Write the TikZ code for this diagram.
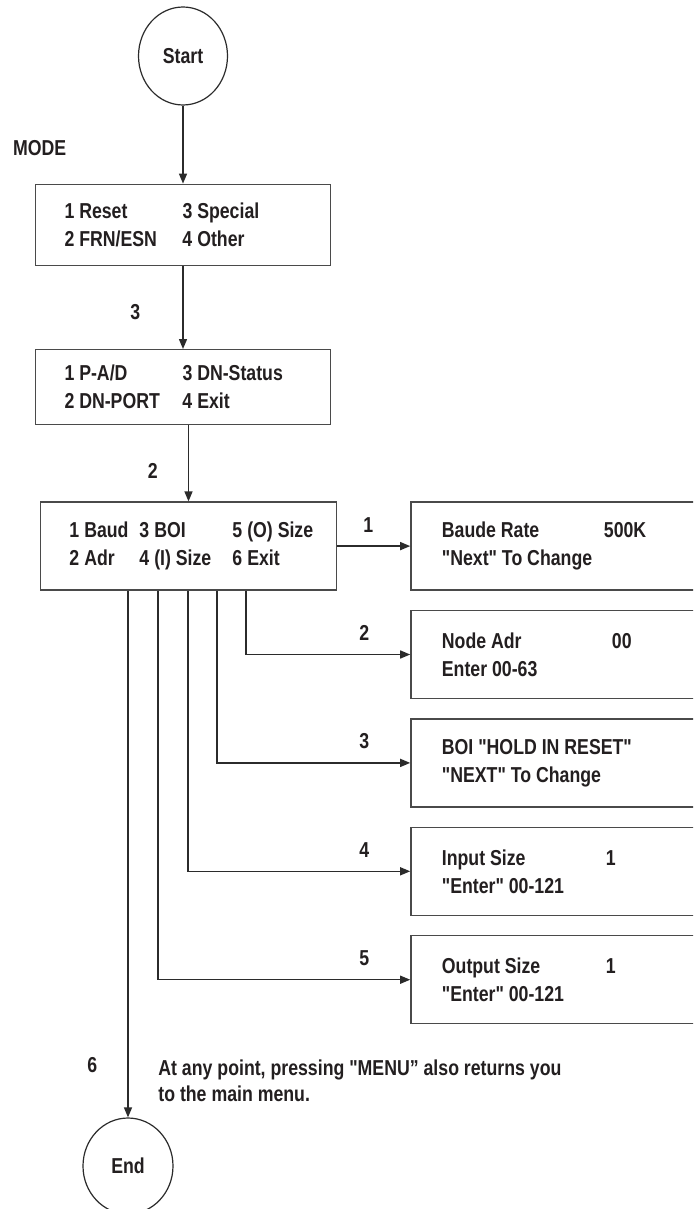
\documentclass[tikz,border=0pt]{standalone}
\usepackage{fontspec}
\newfontfamily\flowfont{Liberation Sans}[FakeStretch=0.82]
\usepackage{tikz}
\usetikzlibrary{shapes.geometric, arrows.meta, positioning, calc}
\definecolor{fcInk}{HTML}{231F20}
\definecolor{fcLine}{HTML}{2B2B2B}
\definecolor{fcBorder}{HTML}{4A4A4A}

\begin{document}
\begin{tikzpicture}[
  x=0.5pt, y=-0.5pt,
  %% --- Node styles ---
  terminal/.style={
    ellipse, minimum width=44.5pt, minimum height=49pt, inner sep=0pt,
    draw=fcLine, line width=0.6pt, text=fcInk,
    font=\flowfont\bfseries\fontsize{10.8}{14}\selectfont
  },
  menubox/.style={
    rectangle, align=left, text width=121.5pt,
    inner xsep=13pt, inner ysep=0pt,
    draw=fcBorder, line width=0.7pt, text=fcInk,
    font=\flowfont\bfseries\fontsize{10.8}{14}\selectfont,
    execute at begin node={\spaceskip=0pt\xspaceskip=0pt}
  },
  screenbox/.style={
    rectangle, align=left, text width=115pt,
    minimum height=44pt, inner xsep=15.5pt, inner ysep=0pt,
    draw=fcBorder, line width=0.7pt, text=fcInk,
    font=\flowfont\bfseries\fontsize{10.8}{14}\selectfont,
    execute at begin node={\spaceskip=0pt\xspaceskip=0pt}
  },
  keylabel/.style={
    inner sep=0pt, text=fcInk,
    font=\flowfont\bfseries\fontsize{10.8}{14}\selectfont
  },
  note/.style={
    align=left, inner sep=0pt, text=fcInk,
    font=\flowfont\bfseries\fontsize{10.8}{13}\selectfont,
    execute at begin node={\spaceskip=0pt\xspaceskip=0pt}
  },
  %% --- Arrow style ---
  arrow/.style={-{Triangle[length=5pt, width=4pt]}, line width=0.7pt, draw=fcLine}
]

\path[use as bounding box, fill=white] (0,0) rectangle (693,1209);
\clip (0,0) rectangle (693,1209);

%% =========================================================
%% NODES — main column
%% =========================================================
\node (start)    [terminal] at (183,56) {Start};
\node (modemenu) [menubox, minimum height=40.5pt, below=39pt of start]
      {\hspace*{1.5pt}\makebox[59pt][l]{1 Reset}3 Special\\
       \hspace*{1.5pt}\makebox[59pt][l]{2 FRN/ESN}4 Other};
\node (specmenu) [menubox, minimum height=37.5pt, below=41.5pt of modemenu]
      {\hspace*{1.5pt}\makebox[59pt][l]{1 P-A/D}3 DN-Status\\
       \hspace*{1.5pt}\makebox[59pt][l]{2 DN-PORT}4 Exit};
\node (dnmenu)   [menubox, text width=122pt, minimum height=44pt,
                  below=38pt of specmenu, xshift=2.75pt]
      {\hspace*{1.5pt}\makebox[35pt][l]{1 Baud}\makebox[46.5pt][l]{3 BOI}\mbox{5 (O) Size}\\
       \hspace*{1.5pt}\makebox[35pt][l]{2 Adr}\makebox[46.5pt][l]{4 (I) Size}\mbox{6 Exit}};
\node (finish)   [terminal, minimum width=45pt, minimum height=48pt] at (128,1166) {End};

%% =========================================================
%% SCREENS — right column
%% =========================================================
\node (baud)    [screenbox, right=36.5pt of dnmenu]
      {\makebox[81pt][l]{Baude Rate}500K\\"Next" To Change};
\node (nodeadr) [screenbox, below=9.5pt of baud]
      {\makebox[85pt][l]{Node Adr}00\\Enter 00-63};
\node (boi)     [screenbox, below=9.5pt of nodeadr]
      {BOI "HOLD IN RESET"\\"NEXT" To Change};
\node (insize)  [screenbox, below=9.5pt of boi]
      {\makebox[82pt][l]{Input Size}1\\"Enter" 00-121};
\node (outsize) [screenbox, below=9.5pt of insize]
      {\makebox[82pt][l]{Output Size}1\\"Enter" 00-121};

\node (menunote) [note, anchor=north west] at (158,1059)
      {At any point, pressing "MENU” also returns you\\to the main menu.};

%% =========================================================
%% MAIN COLUMN ARROWS
%% =========================================================
\draw[arrow] (start)    -- node[keylabel, pos=0.55, left=58pt]{MODE} (modemenu);
\draw[arrow] (modemenu) -- node[keylabel, pos=0.55, left=21pt]{3} (specmenu);
\draw[arrow] (specmenu.south -| dnmenu.north)
    -- node[keylabel, pos=0.6, left=15pt]{2} (dnmenu.north);

%% =========================================================
%% BRANCH ARROWS
%% =========================================================
%% 1 -> baud rate screen
\draw[arrow] (dnmenu) -- node[keylabel, pos=1, above=6.5pt, xshift=-21pt]{1} (baud);

%% 2 .. 5 drop from the menu bottom, then run right
\draw[arrow] ([xshift=103pt]dnmenu.south west)
    |- node[keylabel, pos=1, above=6.5pt, xshift=-23pt]{2} (nodeadr.west);
\draw[arrow] ([xshift=88.5pt]dnmenu.south west)
    |- node[keylabel, pos=1, above=6.5pt, xshift=-23pt]{3} (boi.west);
\draw[arrow] ([xshift=74pt]dnmenu.south west)
    |- node[keylabel, pos=1, above=6.5pt, xshift=-23pt]{4} (insize.west);
\draw[arrow] ([xshift=59pt]dnmenu.south west)
    |- node[keylabel, pos=1, above=6.5pt, xshift=-23pt]{5} (outsize.west);

%% 6 -> exit
\draw[arrow] (dnmenu.south -| finish.north)
    -- node[keylabel, pos=0.9, left=15pt]{6} (finish.north);

\end{tikzpicture}
\end{document}
